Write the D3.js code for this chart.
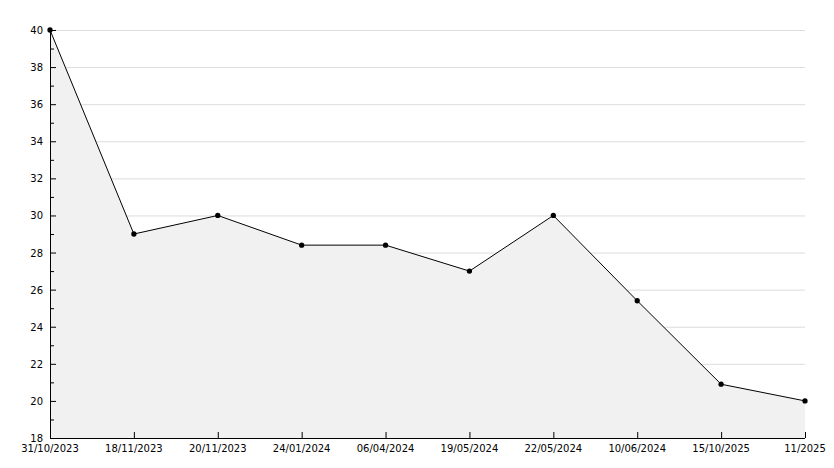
<!DOCTYPE html><html><head><meta charset="utf-8"><script src="https://cdn.jsdelivr.net/npm/d3@7"></script>
<style>body{margin:0;background:#fff}text{font-family:"DejaVu Sans",sans-serif;font-size:10px;fill:#000}</style></head><body>
<svg id="c" width="834" height="468"></svg>
<script>
const categories=["31/10/2023","18/11/2023","20/11/2023","24/01/2024","06/04/2024","19/05/2024","22/05/2024","10/06/2024","15/10/2025","11/2025"];
const values=[40,29,30,28.4,28.4,27,30,25.4,20.9,20];
const yTicks=[18,20,22,24,26,28,30,32,34,36,38,40];
const svg=d3.select("#c");
const L=50,R=805,T=30,B=438;
const x=d3.scalePoint().domain(categories).range([L,R]);
const y=d3.scaleLinear().domain([18,40]).range([B,T]);
const g=svg.append("g");
g.selectAll("line.grid").data(yTicks.slice(1)).join("line").attr("x1",L).attr("x2",R).attr("y1",d=>y(d)+.5).attr("y2",d=>y(d)+.5).attr("stroke","#dcdcdc");
g.append("path").datum(values).attr("fill","#f1f1f1").attr("d",d3.area().x((d,i)=>x(categories[i])).y0(B).y1(d=>y(d)));
g.append("path").datum(values).attr("fill","none").attr("stroke","#000").attr("d",d3.line().x((d,i)=>x(categories[i])).y(d=>y(d)));
// axes
const minor=d3.range(19,40,2);
g.selectAll("line.mi").data(minor).join("line").attr("x1",L).attr("x2",L+4).attr("y1",d=>y(d)+.5).attr("y2",d=>y(d)+.5).attr("stroke","#000");
g.selectAll("line.ma").data(yTicks).join("line").attr("x1",L).attr("x2",L+6).attr("y1",d=>y(d)+.5).attr("y2",d=>y(d)+.5).attr("stroke","#000");
g.selectAll("text.yl").data(yTicks).join("text").attr("x",L-7).attr("y",d=>y(d)+4).attr("text-anchor","end").text(d=>d);
g.selectAll("line.xt").data(categories).join("line").attr("x1",d=>x(d)+.5).attr("x2",d=>x(d)+.5).attr("y1",B).attr("y2",B-6).attr("stroke","#000");
g.selectAll("text.xl").data(categories).join("text").attr("x",d=>x(d)).attr("y",B+14).attr("text-anchor","middle").text(d=>d);
g.append("line").attr("x1",L+.5).attr("x2",L+.5).attr("y1",T-2).attr("y2",B).attr("stroke","#000");
g.append("line").attr("x1",L).attr("x2",R).attr("y1",B+.5).attr("y2",B+.5).attr("stroke","#000");
g.selectAll("path.m").data(values).join("path").attr("transform",(d,i)=>`translate(${x(categories[i])},${y(d)})`).attr("d",d3.symbol(d3.symbolCircle,22)).attr("fill","#000");
</script></body></html>
